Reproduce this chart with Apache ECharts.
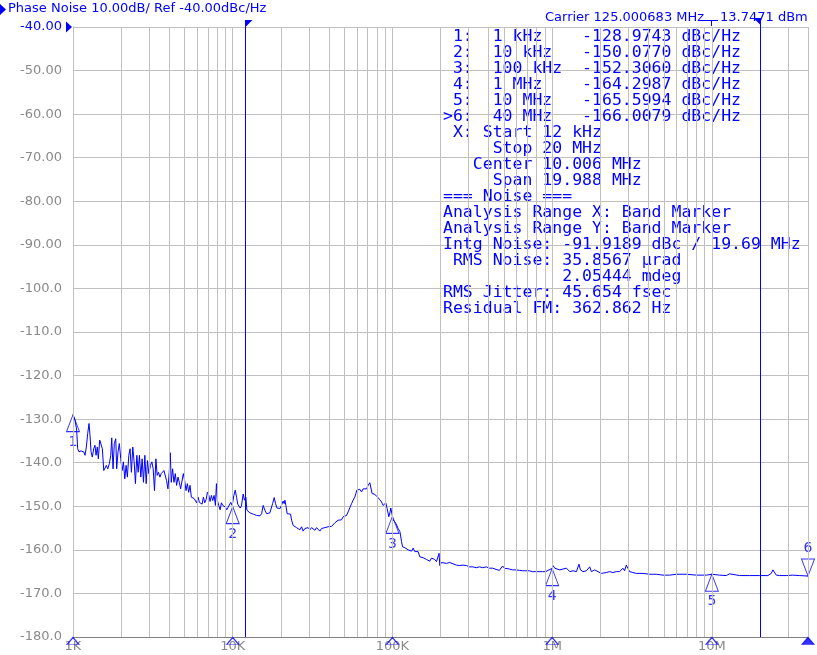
<!DOCTYPE html>
<html><head><meta charset="utf-8">
<script src="https://cdn.jsdelivr.net/npm/echarts/dist/echarts.min.js"></script>
<style>html,body{margin:0;padding:0;background:#fff}#c{width:817px;height:655px}</style>
</head><body><div id="c"></div>
<script>
// ---- trace data (offset frequency in Hz, phase noise in dBc/Hz) ----
const freqHz = [
1000,1029,1054,1070,1090,1122,1144,1167,1189,1212,1236,1260,1278,1297,1321,1348,1373,1394,1420,1441,
1470,1498,1527,1558,1587,1617,1650,1689,1723,1748,1781,1814,1852,1877,1914,1950,1991,2030,2068,2110,
2150,2190,2236,2278,2321,2368,2414,2460,2510,2558,2606,2659,2710,2762,2818,2872,2926,2985,3056,3117,
3177,3238,3303,3366,3431,3500,3567,3636,3709,3780,3853,3930,4005,4064,4123,4203,4287,4370,4454,4543,
4630,4720,4814,4906,5000,5101,5199,5300,5405,5509,5615,5727,5838,5950,6070,6186,6306,6431,6553,6680,
6812,6943,7077,7217,7356,7498,7647,7794,7908,8023,8178,8340,8500,8664,8836,9005,9180,9362,9543,9728,
9920,10000,10170,10370,10580,10750,10930,11130,11340,11630,11840,12090,12270,12500,
12810,13130,13440,13770,14110,14440,14800,15170,15520,15900,16300,16680,17090,17520,17770,18190,18560,18910,19380,19830,
20320,20700,21000,21220,21520,21930,22470,23030,23370,23910,24500,25110,25700,26330,26990,27620,28300,29000,29680,30420,
31170,31900,32690,33500,34280,35130,36000,36840,37750,38690,39590,40580,41580,42550,43600,44690,45730,46860,48020,49150,
50360,51610,52820,54130,55470,56760,58170,59010,59870,61000,62510,64060,65560,67190,68850,70460,72200,73250,74630,76820,
79520,81370,83390,85460,87450,89620,90920,92640,94940,96730,97720,100000,
101000,103500,105000,107000,108600,111300,112400,114000,115700,119600,122500,125400,128500,131700,134800,138100,141500,144800,148400,152100,
155600,159500,163400,167200,171400,175600,179700,184100,188700,193100,195900,197900,202800,207500,217900,228500,239500,251500,263700,276500,
283200,290000,296900,304100,318800,334800,351000,368000,386400,405100,424700,445900,467500,478800,489900,502000,514400,539300,565500,593700,
622500,652700,685200,718500,753300,771800,790800,829100,869300,910600,931900,954800,980000,1000000,
1013000,1038000,1064000,1116000,1170000,1229000,1258000,1289000,1321000,1351000,1419000,1452000,1473000,1504000,1561000,1600000,1639000,1677000,1719000,1761000,
1803000,1847000,1893000,1937000,1985000,2034000,2081000,2185000,2291000,2403000,2523000,2646000,2711000,2774000,2842000,2913000,2981000,3054000,3203000,3363000,
3707000,4067000,4496000,4944000,5447000,6002000,6932000,8006000,9247000,10000000,
11190000,12320000,12920000,13250000,14930000,17230000,19920000,22430000,23570000,24120000,24720000,25330000,26550000,29210000,32120000,35370000,40000000
];
const noiseDb = [
-128.97,-130.2,-132.5,-136.8,-137.5,-137.3,-137.7,-137.5,-138.3,-136.4,-133.3,-131.0,-133.7,-137.5,-138.7,-136.8,-136.0,-138.3,-136.4,-139.1,
-134.8,-134.5,-136.8,-141.8,-142.2,-140.6,-141.4,-140.2,-138.3,-134.3,-141.4,-135.6,-134.5,-141.4,-137.5,-135.6,-139.1,-141.8,-139.8,-143.7,
-140.6,-143.3,-138.3,-136.8,-142.2,-136.4,-139.8,-144.8,-138.3,-142.2,-138.3,-143.3,-139.1,-144.5,-138.3,-144.8,-139.5,-142.5,-140.6,-139.8,
-141.4,-146.4,-139.1,-142.9,-142.2,-143.3,-142.5,-142.9,-141.8,-141.5,-144.1,-146.0,-142.2,-137.7,-144.5,-141.4,-144.5,-142.5,-145.2,-143.3,
-144.5,-146.0,-146.4,-142.5,-144.1,-146.4,-144.8,-146.8,-145.2,-147.9,-147.7,-148.2,-148.3,-149.2,-147.9,-149.1,-148.7,-149.5,-147.9,-149.2,
-148.5,-146.8,-147.4,-148.9,-147.5,-148.7,-147.5,-149.8,-144.8,-148.7,-149.8,-150.8,-149.2,-149.8,-150.0,-150.2,-150.8,-150.2,-149.8,-149.1,
-149.8,-150.08,-147.5,-146.3,-148.0,-149.5,-149.6,-150.4,-149.9,-147.2,-148.6,-147.9,-150.9,-151.3,
-151.5,-151.3,-151.8,-151.5,-152.1,-152.4,-152.2,-151.7,-149.8,-150.9,-151.7,-151.3,-151.5,-151.5,-149.4,-148.0,-149.4,-150.4,-150.5,-150.5,
-150.5,-148.8,-149.4,-148.6,-149.8,-151.7,-151.3,-151.8,-153.2,-154.4,-154.7,-154.9,-154.7,-155.4,-154.7,-155.7,-155.1,-155.4,-154.9,-155.4,
-154.9,-155.1,-155.5,-154.9,-155.1,-155.7,-155.1,-155.4,-154.9,-155.1,-154.7,-154.9,-154.6,-154.2,-153.8,-153.6,-153.2,-152.8,-153.1,-152.4,
-152.3,-152.1,-151.3,-150.3,-149.4,-148.6,-147.9,-147.1,-146.3,-146.6,-146.1,-146.7,-146.0,-146.1,-146.0,-145.2,-144.6,-145.0,-147.1,-147.2,
-147.6,-148.0,-148.5,-149.0,-149.8,-150.2,-149.2,-150.5,-152.4,-151.3,-150.4,-152.31,
-153.1,-152.8,-153.9,-154.3,-155.1,-155.8,-156.6,-158.1,-159.3,-159.5,-159.8,-160.0,-159.6,-160.3,-159.6,-160.4,-160.8,-160.4,-161.6,-161.6,
-161.8,-161.9,-162.2,-161.9,-162.6,-161.9,-162.3,-162.2,-162.7,-162.3,-160.8,-163.6,-162.9,-162.9,-163.1,-162.9,-163.2,-163.5,-163.6,-163.5,
-163.2,-163.6,-163.5,-163.9,-163.9,-164.1,-163.9,-164.1,-163.9,-164.2,-164.2,-164.5,-164.7,-164.6,-163.7,-164.2,-164.4,-164.4,-164.6,-164.6,
-164.7,-164.8,-164.8,-164.8,-165.0,-164.7,-165.0,-165.0,-165.0,-165.0,-164.8,-164.6,-164.2,-164.30,
-163.6,-164.2,-164.6,-164.6,-164.4,-164.2,-163.9,-165.0,-164.7,-164.8,-165.0,-164.6,-163.3,-164.6,-165.0,-164.6,-164.8,-164.6,-163.9,-165.0,
-164.8,-164.6,-164.2,-165.0,-164.6,-165.4,-165.0,-165.2,-165.0,-165.2,-165.0,-165.0,-164.6,-164.2,-164.8,-163.5,-164.2,-165.0,-165.2,-165.4,
-165.4,-165.6,-165.6,-165.8,-165.8,-165.6,-165.6,-165.8,-165.8,-165.60,
-165.8,-165.9,-165.5,-165.8,-165.9,-165.9,-165.9,-165.9,-165.4,-164.6,-164.8,-165.8,-165.9,-165.9,-165.8,-165.9,-166.01
];

// ---- markers ----
const markerIds = ['1','2','3','4','5','6'];
const markerFreqHz = [1e3, 1e4, 1e5, 1e6, 1e7, 4e7];
const markerFreqText = ['1 kHz','10 kHz','100 kHz','1 MHz','10 MHz','40 MHz'];
const markerDb = [-128.9743, -150.0770, -152.3060, -164.2987, -165.5994, -166.0079];
const activeMarker = 5;

// ---- axes ----
const xTickHz = [1e3, 1e4, 1e5, 1e6, 1e7];
const xTickText = ['1K', '10K', '100K', '1M', '10M'];
const xMinHz = 1e3, xMaxHz = 4e7;
const yMin = -180, yMax = -40, yStep = 10;
const bandMarkerHz = [12000, 20000000];

// ---- annotation text ----
const titleText = 'Phase Noise 10.00dB/ Ref -40.00dBc/Hz';
const carrierText = 'Carrier 125.000683 MHz';
const carrierPower = '13.7471 dBm';
const infoLines = [
  ' X: Start 12 kHz',
  '     Stop 20 MHz',
  '   Center 10.006 MHz',
  '     Span 19.988 MHz',
  '=== Noise ===',
  'Analysis Range X: Band Marker',
  'Analysis Range Y: Band Marker',
  'Intg Noise: -91.9189 dBc / 19.69 MHz',
  ' RMS Noise: 35.8567 \u00b5rad',
  '            2.05444 mdeg',
  'RMS Jitter: 45.654 fsec',
  'Residual FM: 362.862 Hz'
];

const BLUE = '#0000ff', GRID = '#c0c0c0', AXIS = '#808080', LABEL = '#8a8a8a';

// grid line frequencies (1..9 per decade)
const gridFreqs = [];
for (let dec = 1e3; dec <= 1e7; dec *= 10) {
  for (let m = 1; m <= 9; m++) { const f = dec * m; if (f <= xMaxHz) gridFreqs.push(f); }
}

const chart = echarts.init(document.getElementById('c'), null, {renderer: 'canvas'});

const upTri = 'path://M0,0L6.5,17L-6.5,17Z';
const downTri = 'path://M-6.5,0L6.5,0L0,17Z';
const axisTri = 'path://M0,0L6,6L-6,6ZM-7,6L7,6';

chart.setOption({
  animation: false,
  backgroundColor: '#ffffff',
  grid: {left: 73, top: 27, width: 735, height: 610, outerBoundsMode: 'none', containLabel: false},
  xAxis: {
    type: 'log', logBase: 10, min: xMinHz, max: xMaxHz,
    axisLine: {show: true, onZero: false, lineStyle: {color: AXIS, width: 1}},
    axisTick: {show: false},
    splitLine: {show: false},
    minorTick: {show: false}, minorSplitLine: {show: false},
    axisLabel: {
      color: LABEL, fontSize: 13, fontFamily: 'DejaVu Sans', margin: 3,
      showMinLabel: true, showMaxLabel: true,
      formatter: v => { const i = xTickHz.findIndex(t => Math.abs(t - v) / t < 1e-6); return i >= 0 ? xTickText[i] : ''; }
    }
  },
  yAxis: {
    type: 'value', min: yMin, max: yMax, interval: yStep,
    axisLine: {show: true, lineStyle: {color: AXIS, width: 1}},
    axisTick: {show: false},
    splitLine: {show: true, lineStyle: {color: GRID, width: 1}},
    axisLabel: {
      color: LABEL, fontSize: 13, fontFamily: 'DejaVu Sans', margin: 11,
      formatter: v => { const s = v > -100 ? v.toFixed(2) : v.toFixed(1); return Math.abs(v - yMax) < 1e-9 ? '{ref|' + s + '}' : s; },
      rich: {ref: {color: BLUE, fontSize: 13, fontFamily: 'DejaVu Sans'}}
    }
  },
  series: [
    {
      name: 'grid', type: 'line', z: 1, silent: true, symbol: 'none',
      data: [[xMinHz, yMin]], lineStyle: {opacity: 0},
      markLine: {
        silent: true, symbol: ['none', 'none'], label: {show: false},
        lineStyle: {color: GRID, width: 1, type: 'solid'},
        emphasis: {disabled: true},
        data: gridFreqs.map(f => ({xAxis: f}))
      }
    },
    {
      name: 'Phase Noise', type: 'line', z: 3, symbol: 'none', silent: true,
      data: freqHz.map((f, i) => [f, noiseDb[i]]),
      lineStyle: {color: BLUE, width: 1},
      markLine: {
        silent: true, symbol: ['none', 'none'], label: {show: false},
        lineStyle: {color: BLUE, width: 1, type: 'solid'},
        emphasis: {disabled: true},
        data: bandMarkerHz.map(f => ({xAxis: f}))
      }
    },
    {
      name: 'markers', type: 'scatter', z: 4, silent: true, clip: false,
      data: markerFreqHz.map((f, i) => ({
        value: [f, markerDb[i]],
        symbol: i === activeMarker ? downTri : upTri,
        symbolOffset: [0, i === activeMarker ? -8.5 : 8.5],
        label: {position: i === activeMarker ? 'top' : 'bottom'}
      })),
      symbolSize: [13, 17],
      itemStyle: {color: 'rgba(0,0,0,0)', borderColor: BLUE, borderWidth: 1},
      label: {show: true, formatter: p => markerIds[p.dataIndex], color: BLUE, fontSize: 14, fontFamily: 'DejaVu Sans', distance: 3}
    },
    {
      name: 'axisMarkers', type: 'scatter', z: 5, silent: true, clip: false,
      data: markerFreqHz.map((f, i) => ({
        value: [f, yMin],
        itemStyle: {color: i === activeMarker ? BLUE : 'rgba(0,0,0,0)'}
      })),
      symbol: axisTri, symbolSize: [14, 7], symbolOffset: [0, 4],
      itemStyle: {borderColor: BLUE, borderWidth: 1}
    }
  ]
});

// ---- decorations positioned via the axes ----
const toPx = (f, v) => chart.convertToPixel({xAxisIndex: 0, yAxisIndex: 0}, [f, v]);
const g = [];
// title
g.push({type: 'polygon', shape: {points: [[0, 4], [0, 15], [6, 9.5]]}, style: {fill: BLUE}});
g.push({type: 'text', x: 8, y: 9, style: {text: titleText, fill: BLUE, font: '13px "DejaVu Sans"', verticalAlign: 'middle', align: 'left'}});
// carrier
g.push({type: 'text', x: 545, y: 18, style: {text: carrierText, fill: BLUE, font: '13px "DejaVu Sans"', verticalAlign: 'middle', align: 'left'}});
g.push({type: 'polyline', shape: {points: [[703, 20.5], [718, 20.5]]}, style: {stroke: BLUE, lineWidth: 1}});
g.push({type: 'polyline', shape: {points: [[711.5, 20.5], [711.5, 26]]}, style: {stroke: BLUE, lineWidth: 1}});
g.push({type: 'text', x: 720, y: 18, style: {text: carrierPower, fill: BLUE, font: '13px "DejaVu Sans"', verticalAlign: 'middle', align: 'left'}});
// reference level arrow
const ref = toPx(xMinHz, yMax);
g.push({type: 'polygon', shape: {points: [[ref[0] - 7, ref[1] - 5.5], [ref[0] - 7, ref[1] + 5.5], [ref[0] - 1, ref[1]]]}, style: {fill: BLUE}});
// band marker flags
const b0 = toPx(bandMarkerHz[0], yMax), b1 = toPx(bandMarkerHz[1], yMax);
const x0 = Math.round(b0[0]) + 0.5, x1 = Math.round(b1[0]) + 0.5;
g.push({type: 'polyline', shape: {points: [[x0, b0[1] - 7], [x0, b0[1]]]}, style: {stroke: BLUE, lineWidth: 1}});
g.push({type: 'polygon', shape: {points: [[x0, b0[1] - 7], [x0 + 7, b0[1] - 7], [x0, b0[1]]]}, style: {fill: BLUE}});
g.push({type: 'polyline', shape: {points: [[x1, b1[1] - 9], [x1, b1[1]]]}, style: {stroke: BLUE, lineWidth: 1}});
g.push({type: 'polygon', shape: {points: [[x1 - 7, b1[1] - 9], [x1, b1[1] - 9], [x1, b1[1] - 2]]}, style: {fill: BLUE}});
// marker table + noise info
const monoFont = '16.5px "DejaVu Sans Mono"';
const rows = markerIds.map((id, i) =>
  (i === activeMarker ? '>' : ' ') + id + ':  ' + markerFreqText[i].padEnd(9) + markerDb[i].toFixed(4) + ' dBc/Hz');
rows.concat(infoLines).forEach((t, i) => {
  g.push({type: 'text', x: 443, y: 36.5 + 16 * i, style: {text: t, fill: BLUE, font: monoFont, verticalAlign: 'middle', align: 'left'}});
});
chart.setOption({graphic: g});
</script>
</body></html>
